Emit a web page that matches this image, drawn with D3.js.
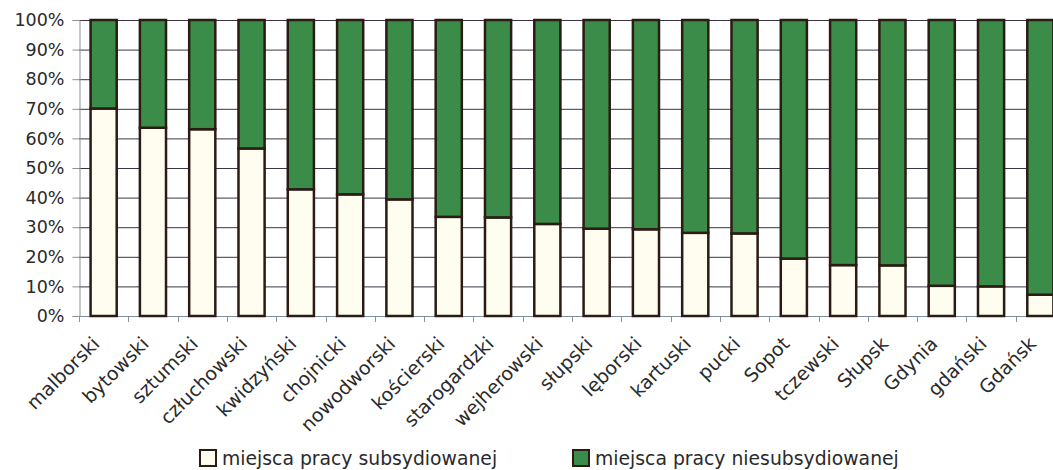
<!doctype html>
<html>
<meta charset="utf-8">
<style>
  body { margin: 0; background: #fff; }
  svg { display: block; overflow: hidden; }
  text { font-family: "DejaVu Sans", Verdana, sans-serif; fill: #222; }
</style>
<head>
  <script src="https://cdn.jsdelivr.net/npm/d3@7"></script>
</head>
<body>
<script>
  var categories = ["malborski", "bytowski", "sztumski", "człuchowski", "kwidzyński", "chojnicki",
    "nowodworski", "kościerski", "starogardzki", "wejherowski", "słupski", "lęborski", "kartuski",
    "pucki", "Sopot", "tczewski", "Słupsk", "Gdynia", "gdański", "Gdańsk"];
  var subsidized = [70.1, 63.6, 63.1, 56.6, 42.8, 41.1, 39.4, 33.5, 33.3, 31.1, 29.5, 29.3, 28.1,
    27.9, 19.4, 17.2, 17.1, 10.2, 10.0, 7.2];
  var seriesNames = ["miejsca pracy subsydiowanej", "miejsca pracy niesubsydiowanej"];
  var yTicks = [0, 10, 20, 30, 40, 50, 60, 70, 80, 90, 100];

  var width = 1053, height = 470;
  var margin = {left: 79, top: 20, bottom: 316, right: 1065};
  var colors = ["#fffdf0", "#3b8c48"];

  var rows = categories.map(function(c, i) {
    return {name: c, sub: subsidized[i], non: 100 - subsidized[i]};
  });

  var svg = d3.select("body").append("svg")
    .attr("width", width)
    .attr("height", height);

  var x = d3.scaleBand()
    .domain(categories)
    .range([margin.left, margin.right])
    .paddingInner(0.47)
    .paddingOuter(0.235);

  var xTick = d3.scaleLinear()
    .domain([0, categories.length])
    .range([margin.left, margin.right]);

  var y = d3.scaleLinear()
    .domain([0, 100])
    .range([margin.bottom, margin.top]);

  // grid
  svg.append("g").selectAll("line")
    .data(yTicks.slice(1))
    .enter().append("line")
    .attr("x1", margin.left)
    .attr("x2", margin.right)
    .attr("y1", function(d) { return y(d) + 0.5; })
    .attr("y2", function(d) { return y(d) + 0.5; })
    .style("stroke", "#3c3344")
    .style("stroke-width", 1);

  // y axis
  var yAxis = d3.axisLeft(y)
    .tickValues(yTicks)
    .tickFormat(function(d) { return d + "%"; })
    .tickSize(7)
    .tickPadding(8);
  var gy = svg.append("g")
    .attr("transform", "translate(" + (margin.left + 0.5) + ",0)")
    .call(yAxis);
  gy.select(".domain").style("stroke", "#8a8f99");
  gy.selectAll(".tick line").style("stroke", "#8a8f99");
  gy.selectAll("text").style("font-size", "17.5px").style("fill", "#2a2a2a");

  // x axis line + ticks
  var gx = svg.append("g");
  gx.append("line")
    .attr("x1", margin.left)
    .attr("x2", margin.right)
    .attr("y1", margin.bottom + 0.5)
    .attr("y2", margin.bottom + 0.5)
    .style("stroke", "#7b8fa0");
  gx.selectAll("line.tk")
    .data(d3.range(categories.length + 1))
    .enter().append("line")
    .attr("class", "tk")
    .attr("x1", function(d) { return Math.round(xTick(d)) + 0.5; })
    .attr("x2", function(d) { return Math.round(xTick(d)) + 0.5; })
    .attr("y1", margin.bottom)
    .attr("y2", margin.bottom + 6)
    .style("stroke", "#8a8f99");

  // bars
  var bars = svg.append("g").selectAll("g")
    .data(rows)
    .enter().append("g");

  bars.append("rect")
    .attr("x", function(d) { return x(d.name); })
    .attr("width", x.bandwidth())
    .attr("y", function(d) { return y(d.sub); })
    .attr("height", function(d) { return y(0) - y(d.sub); })
    .style("fill", colors[0])
    .style("stroke", "#2a1c14")
    .style("stroke-width", 2.5);

  bars.append("rect")
    .attr("x", function(d) { return x(d.name); })
    .attr("width", x.bandwidth())
    .attr("y", y(100))
    .attr("height", function(d) { return y(d.sub) - y(100); })
    .style("fill", colors[1])
    .style("stroke", "#2a1c14")
    .style("stroke-width", 2.5);

  // x labels
  svg.append("g").selectAll("text")
    .data(categories)
    .enter().append("text")
    .attr("transform", function(d) {
      return "translate(" + (x(d) + x.bandwidth() / 2 - 3) + "," + (margin.bottom + 29) + ") rotate(-45)";
    })
    .attr("text-anchor", "end")
    .style("font-size", "19px")
    .style("fill", "#2a2a2a")
    .text(function(d) { return d; });

  // legend
  var legendX = [200, 573];
  var lg = svg.append("g").selectAll("g")
    .data(seriesNames)
    .enter().append("g")
    .attr("transform", function(d, i) { return "translate(" + legendX[i] + ",450)"; });
  lg.append("rect")
    .attr("width", 16)
    .attr("height", 16)
    .style("fill", function(d, i) { return colors[i]; })
    .style("stroke", "#2a1c14")
    .style("stroke-width", 2);
  lg.append("text")
    .attr("x", 22)
    .attr("y", 15)
    .style("font-size", "18.8px")
    .style("fill", "#2a2a2a")
    .text(function(d) { return d; });
</script>
</body>
</html>
